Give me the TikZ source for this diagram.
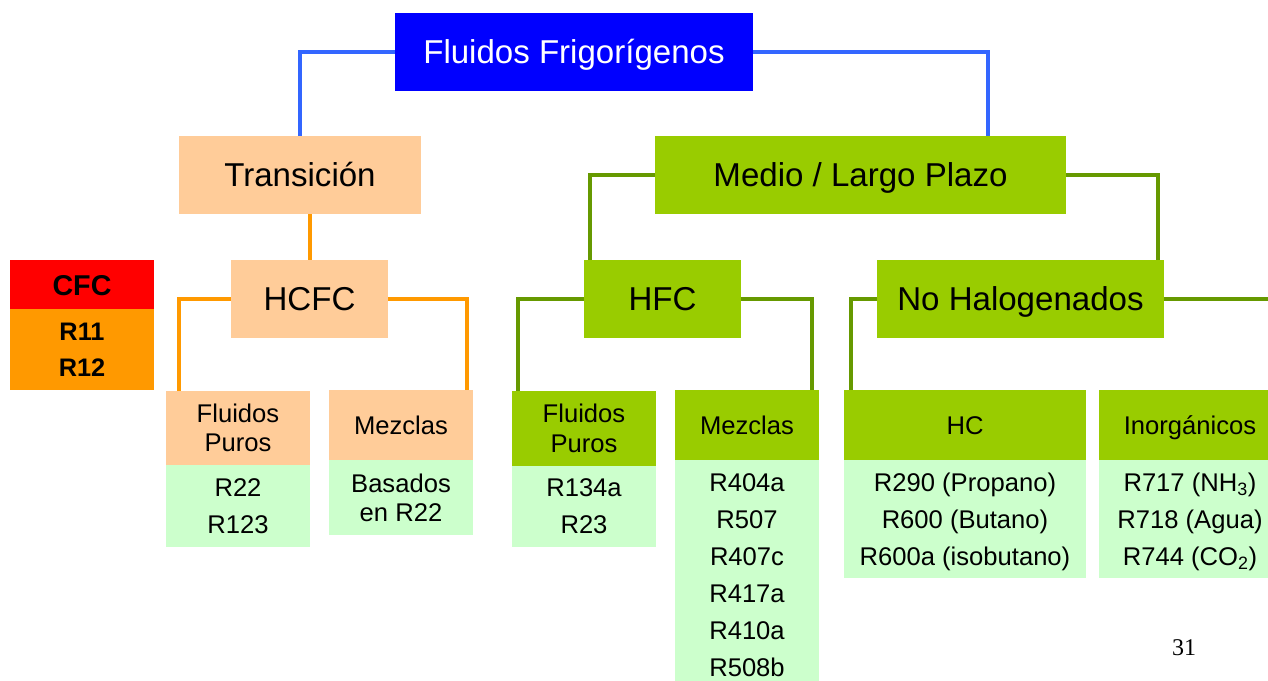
\documentclass[tikz,border=0pt]{standalone}
\usepackage{fontspec}
\setmainfont{Liberation Sans}
\newfontfamily\pagefont{Liberation Serif}
\definecolor{topblue}{RGB}{0,0,255}
\definecolor{linkblue}{RGB}{51,102,255}
\definecolor{peach}{RGB}{255,204,153}
\definecolor{leaf}{RGB}{153,204,0}
\definecolor{darkleaf}{RGB}{102,153,0}
\definecolor{mint}{RGB}{204,255,204}
\definecolor{amber}{RGB}{255,153,0}
\tikzset{
  box/.style={rectangle, inner sep=0pt, align=center, text=black},
  bigbox/.style={box, minimum height=58.5pt, text height=17.76pt, text depth=0pt, font=\fontsize{24.8}{29.8}\selectfont},
  head/.style={box, minimum width=108pt, font=\fontsize{19.2}{22}\selectfont},
  onehead/.style={head, minimum height=52.5pt, text height=13.75pt, text depth=0pt},
  list/.style={box, fill=mint, minimum width=108pt, text depth=0pt, font=\fontsize{19.2}{27.75}\selectfont},
  bluelink/.style={draw=linkblue, line width=3pt},
  orangelink/.style={draw=amber, line width=3pt},
  greenlink/.style={draw=darkleaf, line width=3pt},
}

\begin{document}
\begin{tikzpicture}[x=0.75pt, y=-0.75pt]
\useasboundingbox (0,0) rectangle (1268,681);
\clip (0,0) rectangle (1268,681);

\node[bigbox, fill=topblue, text=white, minimum width=268.5pt] (fluidos) at (574,52) {Fluidos Frigorígenos};
\node[bigbox, fill=peach, minimum width=181.5pt] (trans) at (300,175) {Transición};
\node[bigbox, fill=leaf, minimum width=308.25pt] (medio) at (860.5,175) {Medio / Largo Plazo};
\node[bigbox, fill=peach, minimum width=117.75pt] (hcfc) at (309.5,299) {HCFC};
\node[bigbox, fill=leaf, minimum width=117.75pt] (hfc) at (662.5,299) {HFC};
\node[bigbox, fill=leaf, minimum width=215.25pt] (nohal) at (1020.5,299) {No Halogenados};

\node[box, fill=red, minimum width=108pt, minimum height=36.75pt, text height=15.4pt, text depth=0pt, font=\bfseries\fontsize{21.5}{25}\selectfont] (cfc) at (82,285) {CFC};
\node[box, fill=amber, minimum width=108pt, minimum height=60.75pt, text depth=0pt, font=\bfseries\fontsize{19}{27}\selectfont] (cfclist) at (82,349.5) {R11\\R12};

\node[head, fill=peach, minimum height=55.5pt] (hcfcpuros) at (238,428) {Fluidos\\Puros};
\node[list, minimum height=61.5pt] (hcfcpuroslist) at (238,506) {R22\\R123};
\node[onehead, fill=peach] (hcfcmez) at (401,425) {Mezclas};
\node[list, minimum height=56.25pt, font=\fontsize{19.2}{22}\selectfont] (hcfcmezlist) at (401,497.5) {Basados\\en R22};

\node[head, fill=leaf, minimum height=56.25pt] (hfcpuros) at (584,428.5) {Fluidos\\Puros};
\node[list, minimum height=60.75pt] (hfcpuroslist) at (584,506.5) {R134a\\R23};
\node[onehead, fill=leaf] (hfcmez) at (747,425) {Mezclas};
\node[list, minimum height=173.25pt] (hfcmezlist) at (747,575.5) {R404a\\R507\\R407c\\R417a\\R410a\\R508b};

\node[onehead, fill=leaf, minimum width=181.5pt] (hc) at (965,425) {HC};
\node[list, minimum width=181.5pt, minimum height=88.5pt] (hclist) at (965,519) {R290 (Propano)\\R600 (Butano)\\R600a (isobutano)};
\node[onehead, fill=leaf, minimum width=136.5pt] (inorg) at (1190,425) {Inorgánicos};
\node[list, minimum width=136.5pt, minimum height=88.5pt] (inorglist) at (1190,519) {R717 (NH\textsubscript{3})\\R718 (Agua)\\R744 (CO\textsubscript{2})};

\node[font=\pagefont\fontsize{18}{20}\selectfont] (page) at (1184,648) {31};

\draw[bluelink] (fluidos.west) -| (trans.north);
\draw[bluelink] (fluidos.east) -| ([xshift=95.6pt]medio.north);
\draw[orangelink] (hcfc.north) -- (hcfc.north |- trans.south);
\draw[orangelink] (hcfc.west) -| ([xshift=9.75pt]hcfcpuros.north west);
\draw[orangelink] (hcfc.east) -| ([xshift=-4.5pt]hcfcmez.north east);
\draw[greenlink] (medio.west) -| ([xshift=4.5pt]hfc.north west);
\draw[greenlink] (medio.east) -| ([xshift=-4.5pt]nohal.north east);
\draw[greenlink] (hfc.west) -| ([xshift=4.5pt]hfcpuros.north west);
\draw[greenlink] (hfc.east) -| ([xshift=-5.25pt]hfcmez.north east);
\draw[greenlink] (nohal.west) -| ([xshift=5.25pt]hc.north west);
\coordinate (rimright) at (1268,299);
\draw[greenlink] (nohal.east) -- (rimright);
\end{tikzpicture}
\end{document}
